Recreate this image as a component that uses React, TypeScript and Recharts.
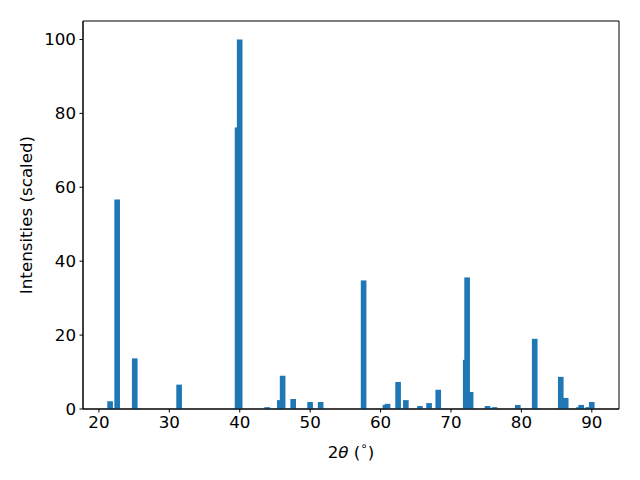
import { BarChart, Bar, XAxis, YAxis, ReferenceArea, Label } from "recharts";

// peak positions (2θ) and scaled intensities
const twoTheta = [21.6, 22.6, 25.1, 31.4, 39.7, 40.0, 43.9, 45.7, 46.1, 47.6, 50.0, 51.5, 57.6, 60.7, 61.0, 62.5, 63.6, 65.6, 66.9, 68.2, 72.1, 72.3, 72.8, 75.2, 76.2, 79.5, 81.9, 85.6, 86.3, 88.2, 88.5, 89.5, 90.0];
const intensity = [2.1, 56.7, 13.7, 6.6, 76.2, 100, 0.5, 2.4, 9.0, 2.7, 1.9, 1.9, 34.8, 1.1, 1.4, 7.3, 2.4, 0.8, 1.6, 5.2, 13.3, 35.6, 4.6, 0.8, 0.5, 1.1, 19.0, 8.7, 3.0, 0.5, 1.1, 0.5, 1.9];
const xTicks = [20, 30, 40, 50, 60, 70, 80, 90];
const yTicks = [0, 20, 40, 60, 80, 100];

const X_MIN = 17.74;
const X_MAX = 93.86;
const Y_MAX = 105;
const PLOT_W = 536;
const BAR_UNITS = 0.8;

const data = twoTheta.map((x, i) => ({ x, y: intensity[i] }));
const font = "'DejaVu Sans', sans-serif";
const fs = 16.7;
const barPx = (BAR_UNITS * PLOT_W) / (X_MAX - X_MIN);

// recharts squeezes bars on a number axis; keep its centre, use the real width
const PeakBar = (props: any) => {
  const { x, y, width, height, fill } = props;
  if (!height || height <= 0) return null;
  const cx = x + width / 2;
  return <rect x={cx - barPx / 2} y={y} width={barPx} height={height} fill={fill} />;
};

const XLabel = (props: any) => {
  const vb = props.viewBox;
  return (
    <text x={vb.x + vb.width / 2} y={vb.y + 43} textAnchor="middle" dominantBaseline="central" fontFamily={font} fontSize={fs} fill="#000">
      2<tspan fontStyle="italic">θ</tspan> (<tspan fontSize={12} dy={-6}>∘</tspan><tspan dy={6}>)</tspan>
    </text>
  );
};

const YLabel = (props: any) => {
  const vb = props.viewBox;
  const cy = vb.y + vb.height / 2;
  return (
    <text x={26} y={cy} transform={`rotate(-90, 26, ${cy})`} textAnchor="middle" dominantBaseline="central" fontFamily={font} fontSize={fs} fill="#000">
      Intensities (scaled)
    </text>
  );
};

export default function App() {
  return (
    <div style={{ position: "absolute", left: 0, top: 0, width: 640, height: 480, background: "#fff" }}>
      <BarChart width={640} height={480} data={data} margin={{ top: 21, right: 21, left: 0, bottom: 0 }}>
        <XAxis
          type="number"
          dataKey="x"
          domain={[X_MIN, X_MAX]}
          allowDataOverflow
          ticks={xTicks}
          height={71}
          tickSize={3.5}
          tickMargin={3.5}
          tickLine={{ stroke: "#000" }}
          axisLine={{ stroke: "#000" }}
          tick={{ fill: "#000", fontFamily: font, fontSize: fs }}
        >
          <Label content={XLabel} />
        </XAxis>
        <YAxis
          type="number"
          domain={[0, Y_MAX]}
          allowDataOverflow
          ticks={yTicks}
          width={83}
          tickSize={3.5}
          tickMargin={3.5}
          tickLine={{ stroke: "#000" }}
          axisLine={{ stroke: "#000" }}
          tick={{ fill: "#000", fontFamily: font, fontSize: fs }}
        >
          <Label content={YLabel} />
        </YAxis>
        <Bar dataKey="y" fill="#1f77b4" barSize={barPx} shape={PeakBar} isAnimationActive={false} />
        <ReferenceArea x1={X_MIN} x2={X_MAX} y1={0} y2={Y_MAX} fill="none" stroke="#000" strokeWidth={1} ifOverflow="visible" />
      </BarChart>
    </div>
  );
}
